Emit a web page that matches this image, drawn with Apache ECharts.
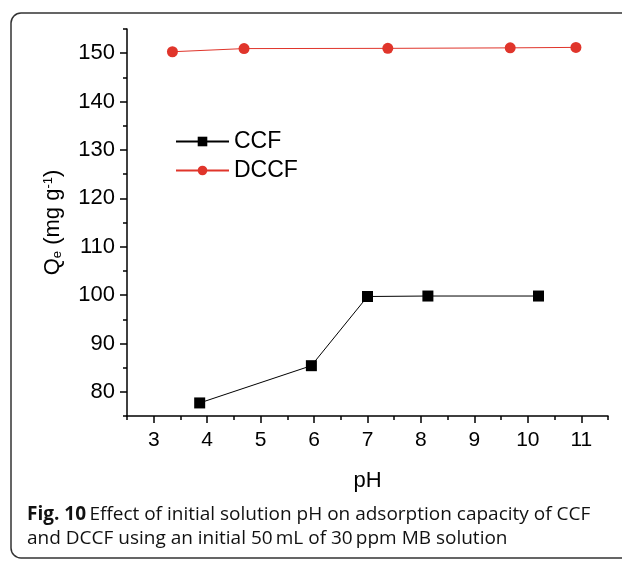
<!DOCTYPE html>
<html>
<head>
<meta charset="utf-8">
<script src="https://cdn.jsdelivr.net/npm/echarts@6/dist/echarts.min.js"></script>
<style>html,body{margin:0;padding:0;background:#fff;}#c{width:622px;height:561px;}</style>
</head>
<body>
<div id="c"></div>
<script>
const ccfPH = [3.86, 5.95, 7.0, 8.13, 10.2];
const ccfQ = [77.7, 85.4, 99.7, 99.8, 99.8];
const dccfPH = [3.35, 4.69, 7.38, 9.67, 10.9];
const dccfQ = [150.3, 150.95, 151.0, 151.1, 151.2];
const xTicks = [3, 4, 5, 6, 7, 8, 9, 10, 11];
const yTicks = [80, 90, 100, 110, 120, 130, 140, 150];

const font = 'Liberation Sans, Arial, sans-serif';
const chart = echarts.init(document.getElementById('c'), null, {renderer: 'canvas'});
const baseX = {type: 'value', min: 2.5, max: 11.5, position: 'bottom'};
const baseY = {type: 'value', min: 75, max: 155, position: 'left'};
chart.setOption({
  animation: false,
  backgroundColor: '#fff',
  grid: {left: 127, right: 14, top: 29, bottom: 145},
  xAxis: [
    Object.assign({}, baseX, {
      interval: 0.5,
      axisLine: {lineStyle: {color: '#000', width: 1.5}},
      axisTick: {show: true, length: 4, lineStyle: {color: '#000', width: 1.5}},
      axisLabel: {show: false},
      splitLine: {show: false},
      name: 'pH', nameLocation: 'middle', nameGap: 54,
      nameTextStyle: {fontFamily: font, fontSize: 22, color: '#000'}
    }),
    Object.assign({}, baseX, {
      axisLine: {show: false},
      axisTick: {show: true, length: 7, customValues: xTicks, lineStyle: {color: '#000', width: 1.5}},
      axisLabel: {show: true, customValues: xTicks, margin: 14, fontFamily: font, fontSize: 21, color: '#000'},
      splitLine: {show: false}
    })
  ],
  yAxis: [
    Object.assign({}, baseY, {
      interval: 5,
      axisLine: {show: true, lineStyle: {color: '#000', width: 1.5}},
      axisTick: {show: true, length: 4, lineStyle: {color: '#000', width: 1.5}},
      axisLabel: {show: false},
      splitLine: {show: false},
      name: '{q|Q}{sub|e}{t| (mg g}{sup|-1}{t|)}',
      nameLocation: 'middle', nameRotate: 90, nameGap: 63,
      nameTextStyle: {
        fontFamily: font, fontSize: 22, color: '#000',
        rich: {
          q: {fontFamily: font, fontSize: 22, color: '#000'},
          t: {fontFamily: font, fontSize: 22, color: '#000'},
          sub: {fontFamily: font, fontSize: 13, color: '#000', verticalAlign: 'bottom'},
          sup: {fontFamily: font, fontSize: 13, color: '#000', verticalAlign: 'top'}
        }
      }
    }),
    Object.assign({}, baseY, {
      axisLine: {show: false},
      axisTick: {show: true, length: 7, customValues: yTicks, lineStyle: {color: '#000', width: 1.5}},
      axisLabel: {show: true, customValues: yTicks, margin: 12, fontFamily: font, fontSize: 22, color: '#000'},
      splitLine: {show: false}
    })
  ],
  legend: {
    left: 170, top: 125, orient: 'vertical',
    itemWidth: 53, itemHeight: 12, itemGap: 6,
    textStyle: {fontFamily: font, fontSize: 23, color: '#000'},
    data: ['CCF', 'DCCF']
  },
  series: [
    {
      name: 'CCF', type: 'line', xAxisIndex: 0, yAxisIndex: 0,
      data: ccfPH.map((x, i) => [x, ccfQ[i]]),
      symbol: 'rect', symbolSize: 11,
      lineStyle: {color: '#000', width: 1},
      itemStyle: {color: '#000'}
    },
    {
      name: 'DCCF', type: 'line', xAxisIndex: 0, yAxisIndex: 0,
      data: dccfPH.map((x, i) => [x, dccfQ[i]]),
      symbol: 'circle', symbolSize: 11,
      lineStyle: {color: '#e0352b', width: 1},
      itemStyle: {color: '#e0352b'}
    }
  ],
  graphic: [
    {type: 'rect', shape: {x: 11, y: 13, width: 640, height: 545, r: 10},
     style: {fill: 'none', stroke: '#333', lineWidth: 1.5}, z: 100},
    {type: 'text', left: 27, top: 505,
     style: {rich: {b: {fontFamily: 'Open Sans', fontWeight: 'bold', fontSize: 19, fill: '#111'},
                    n: {fontFamily: 'Open Sans', fontSize: 19, fill: '#111'}},
             text: '{b|Fig. 10} {n|Effect of initial solution pH on adsorption capacity of CCF}'}},
    {type: 'text', left: 27, top: 529,
     style: {font: '19px "Open Sans"', fill: '#111',
             text: 'and DCCF using an initial 50\u2009mL of 30\u2009ppm MB solution'}}
  ]
});
</script>
</body>
</html>
